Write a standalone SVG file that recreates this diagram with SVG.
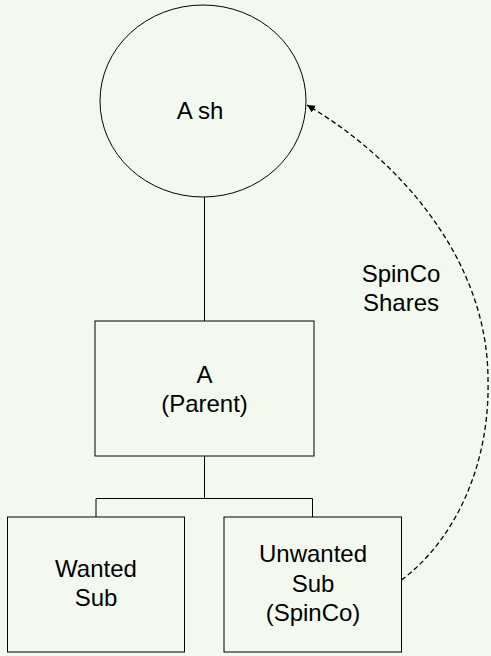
<svg xmlns="http://www.w3.org/2000/svg" width="491" height="656" viewBox="0 0 491 656">
  <style>
    .shape { fill: none; stroke: #000; stroke-width: 1; }
    .link { fill: none; stroke: #000; stroke-width: 1; }
    .dash { fill: none; stroke: #000; stroke-width: 1.3; stroke-dasharray: 5 3; }
    .label { font-family: "Liberation Sans", Arial, sans-serif; font-size: 24px; fill: #000; text-anchor: middle; }
  </style>
  <defs>
    <marker id="arrow" viewBox="0 0 10 10" refX="10" refY="5" markerWidth="8" markerHeight="8" markerUnits="userSpaceOnUse" orient="auto">
      <path d="M0,0 L10,5 L0,10 Z" fill="#000"/>
    </marker>
  </defs>
  <rect width="491" height="656" fill="#f4f9f0"/>

  <g id="connectors">
    <line class="link" x1="204.5" y1="197" x2="204.5" y2="321"/>
    <polyline class="link" points="204.5,456 204.5,498.5"/>
    <polyline class="link" points="96,517 96,498.5 312.5,498.5 312.5,517"/>
    <path class="dash" d="M401.5,580 C455,540 490,465 488,380 C488,260 400,160 307,105" marker-end="url(#arrow)"/>
  </g>

  <g id="shareholders">
    <ellipse class="shape" cx="203" cy="101" rx="103" ry="96"/>
    <text class="label" x="200" y="119">A sh</text>
  </g>

  <g id="parent">
    <rect class="shape" x="95" y="321" width="219" height="135"/>
    <text class="label" x="204.5" y="383">A</text>
    <text class="label" x="204.5" y="411.5">(Parent)</text>
  </g>

  <g id="wanted-sub">
    <rect class="shape" x="7.5" y="517" width="177" height="135"/>
    <text class="label" x="96" y="577">Wanted</text>
    <text class="label" x="96" y="606">Sub</text>
  </g>

  <g id="unwanted-sub">
    <rect class="shape" x="224" y="517" width="177.5" height="135"/>
    <text class="label" x="313" y="562">Unwanted</text>
    <text class="label" x="313" y="591.5">Sub</text>
    <text class="label" x="313" y="621">(SpinCo)</text>
  </g>

  <g id="spinco-shares-label">
    <text class="label" x="401" y="282">SpinCo</text>
    <text class="label" x="401" y="310.5">Shares</text>
  </g>
</svg>
